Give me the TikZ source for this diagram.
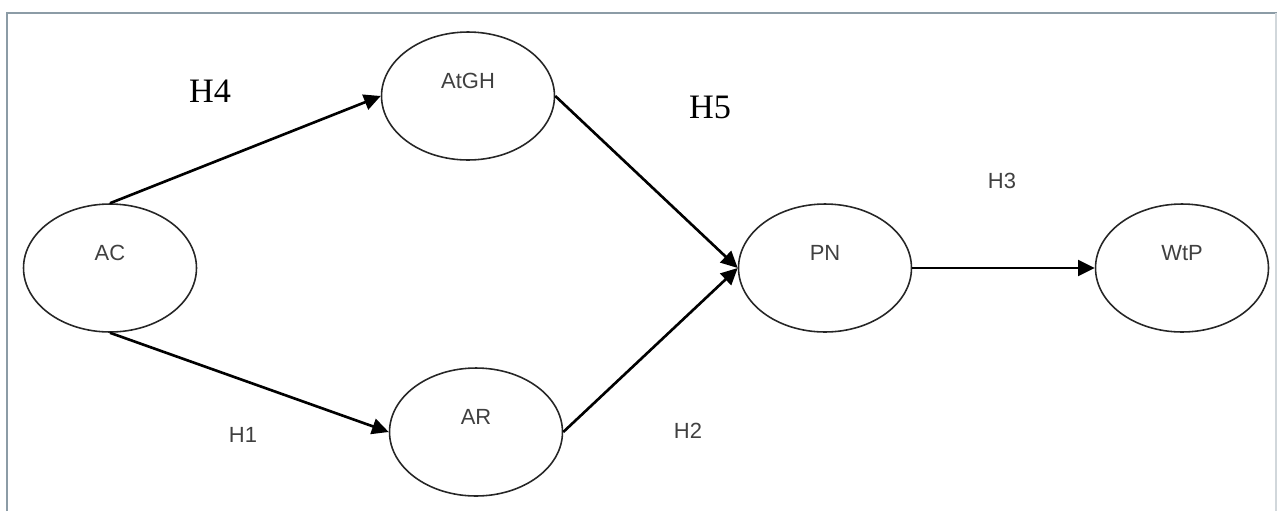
\documentclass[tikz,border=0pt]{standalone}
\usepackage{fontspec}
\setmainfont{Liberation Serif}
\setsansfont{Liberation Sans}
\usetikzlibrary{arrows.meta, shapes.geometric}
\definecolor{framegray}{RGB}{140,156,166}
\definecolor{labelgray}{RGB}{64,64,64}

\begin{document}
\begin{tikzpicture}[
    x=0.02cm, y=-0.02cm,
    >={Triangle[length=9.5pt, width=9pt]},
    construct/.style={ellipse, draw=black!85, line width=0.9pt,
        minimum width=3.46cm, minimum height=2.56cm, inner sep=0pt,
        font=\sffamily\fontsize{12.5}{13}\selectfont, text=labelgray,
        text height=0.3cm, text depth=0.62cm},
    path/.style={->, line width=1.5pt, black},
    hypbig/.style={font=\fontsize{19.5}{20}\selectfont, black},
    hypsmall/.style={font=\sffamily\fontsize{12.5}{13}\selectfont, text=labelgray},
]

%--- Canvas ---
\useasboundingbox (0,0) rectangle (1277,511);

%============================================================
% Frame
%============================================================
\draw[framegray, line width=1.2pt] (7,511) -- (7,13) -- (1277,13);
\draw[framegray!40, line width=0.6pt] (1276,13) -- (1276,511);

%============================================================
% Constructs
%============================================================
\node[construct] (ac)   at (110,268)  {AC};
\node[construct] (atgh) at (468,96)   {AtGH};
\node[construct] (ar)   at (476,432)  {AR};
\node[construct] (pn)   at (825,268)  {PN};
\node[construct] (wtp)  at (1182,268) {WtP};

%============================================================
% Paths
%============================================================
\draw[path] (ac.north) -- (atgh.west);
\draw[path] (ac.south) -- (ar.west);
\draw[path] (atgh.east) -- (pn.west);
\draw[path] (ar.east) -- (pn.west);
\draw[path] (pn.east) -- (wtp.west);

%============================================================
% Hypotheses
%============================================================
\node[hypbig]   (h4) at (210,91)   {H4};
\node[hypbig]   (h5) at (710,107)  {H5};
\node[hypsmall] (h3) at (1002,181) {H3};
\node[hypsmall] (h1) at (243,435)  {H1};
\node[hypsmall] (h2) at (688,431)  {H2};

\end{tikzpicture}
\end{document}
